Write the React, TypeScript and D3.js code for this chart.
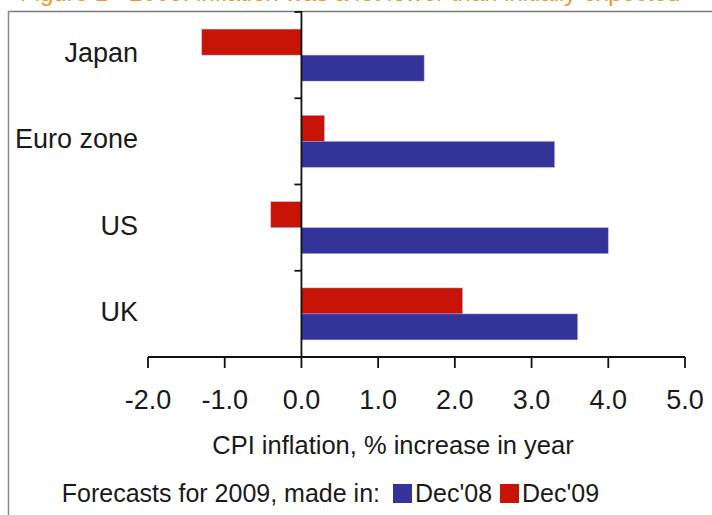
import React from "react";
import * as d3 from "d3";

const categories = ["Japan", "Euro zone", "US", "UK"];
const seriesNames = ["Dec'09", "Dec'08"];
const dec08 = [1.6, 3.3, 4.0, 3.6];
const dec09 = [-1.3, 0.3, -0.4, 2.1];
const xTicks = [-2, -1, 0, 1, 2, 3, 4, 5];
const seriesColors = { "Dec'08": "#333399", "Dec'09": "#c81407" };

const W = 712;
const H = 515;
const FONT = "'Liberation Sans', Arial, sans-serif";
const TEXT = "#1a1a1a";

// ASCII hyphen for negatives, one decimal place
const fmtTick = (t: number) => d3.format(".1f")(t).replace("\u2212", "-");

export default function App() {
  const x = d3.scaleLinear().domain([-2, 5]).range([148, 685]);
  const y = d3.scaleBand<string>().domain(categories).range([12, 357]);
  const sub = d3
    .scaleBand<string>()
    .domain(seriesNames)
    .range([0, y.bandwidth()])
    .paddingInner(0)
    .paddingOuter(0.66);

  const rows = categories.map((c, i) => ({
    cat: c,
    vals: [
      { s: "Dec'09", v: dec09[i] },
      { s: "Dec'08", v: dec08[i] },
    ],
  }));

  const x0 = x(0);
  const axisY = 357;
  const bandEdges = categories.map((c) => y(c) as number);

  return (
    <svg
      width={W}
      height={H}
      style={{ position: "absolute", left: 0, top: 0, background: "#fff" }}
      fontFamily={FONT}
    >
      <rect x={0} y={0} width={W} height={H} fill="#fff" />
      {/* title, running off the top edge */}
      <text x={20} y={1} fontSize={24} fill="#f7941d">
        Figure 1 - 2009: inflation was a lot lower than initially expected
      </text>
      {/* frame */}
      <line x1={8} x2={W} y1={11.5} y2={11.5} stroke="#7a7a7a" strokeWidth={1.5} />
      <line x1={8.5} x2={8.5} y1={11} y2={H} stroke="#8a8a8a" strokeWidth={1.5} />

      {/* bars */}
      {rows.map((r) =>
        r.vals.map((d) => {
          const yy = (y(r.cat) as number) + (sub(d.s) as number);
          const xa = Math.min(x(d.v), x0);
          const w = Math.abs(x(d.v) - x0);
          return (
            <rect
              key={r.cat + d.s}
              x={xa}
              y={yy}
              width={w}
              height={sub.bandwidth()}
              fill={seriesColors[d.s as keyof typeof seriesColors]}
              stroke="#b8b8e8"
              strokeOpacity={0.5}
              strokeWidth={0.8}
            />
          );
        })
      )}

      {/* y axis */}
      <line x1={x0} x2={x0} y1={11} y2={axisY} stroke="#111" strokeWidth={1.8} />
      {bandEdges.map((e, i) => (
        <line key={i} x1={x0 - 7} x2={x0} y1={e} y2={e} stroke="#111" strokeWidth={1.8} />
      ))}
      {categories.map((c) => (
        <text
          key={c}
          x={138}
          y={(y(c) as number) + y.bandwidth() / 2 + 7}
          textAnchor="end"
          fontSize={27}
          fill={TEXT}
        >
          {c}
        </text>
      ))}

      {/* x axis */}
      <line x1={x(-2)} x2={x(5)} y1={axisY} y2={axisY} stroke="#111" strokeWidth={1.8} />
      {xTicks.map((t) => (
        <g key={t}>
          <line x1={x(t)} x2={x(t)} y1={axisY} y2={axisY + 11} stroke="#111" strokeWidth={1.8} />
          <text x={x(t)} y={409} textAnchor="middle" fontSize={27} fill={TEXT}>
            {fmtTick(t)}
          </text>
        </g>
      ))}
      <text x={393} y={454} textAnchor="middle" fontSize={25.5} fill={TEXT}>
        CPI inflation, % increase in year
      </text>

      {/* legend */}
      <text x={380} y={502} textAnchor="end" fontSize={25} fill={TEXT}>
        Forecasts for 2009, made in:
      </text>
      <rect x={393} y={484} width={19} height={19} fill={seriesColors["Dec'08"]} />
      <text x={415} y={502} fontSize={25} fill={TEXT}>
        Dec'08
      </text>
      <rect x={500} y={484} width={19} height={19} fill={seriesColors["Dec'09"]} />
      <text x={522} y={502} fontSize={25} fill={TEXT}>
        Dec'09
      </text>
    </svg>
  );
}
